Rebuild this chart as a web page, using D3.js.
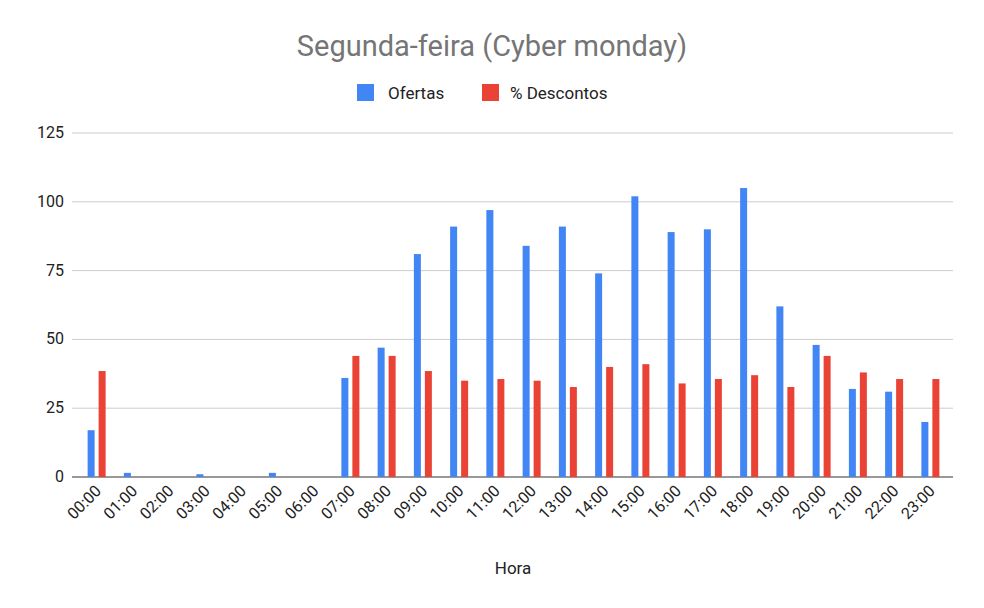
<!DOCTYPE html><html><head><meta charset="utf-8">
<script src="https://cdn.jsdelivr.net/npm/d3@7"></script>
<style>body{margin:0;background:#fff}text{font-family:Roboto,Arial,sans-serif}</style></head><body>
<svg id="c" width="984" height="608"></svg>
<script>
const hours=["00:00","01:00","02:00","03:00","04:00","05:00","06:00","07:00","08:00","09:00","10:00","11:00","12:00","13:00","14:00","15:00","16:00","17:00","18:00","19:00","20:00","21:00","22:00","23:00"];
const ofertas=[17,1.5,0,1,0,1.5,0,36,47,81,91,97,84,91,74,102,89,90,105,62,48,32,31,20];
const descontos=[38.5,0,0,0,0,0,0,44,44,38.5,35,35.6,35,32.7,40,41,34,35.6,37,32.7,44,38,35.6,35.6];
const yTicks=[0,25,50,75,100,125];
const svg=d3.select("#c");
const x=d3.scaleBand().domain(hours).range([78,948]);
const y=d3.scaleLinear().domain([0,125]).range([477,133]);
svg.append("g").selectAll("line").data(yTicks).join("line")
 .attr("x1",72).attr("x2",953).attr("y1",d=>y(d)).attr("y2",d=>y(d))
 .attr("stroke",d=>d===0?"#333":"#ccc").attr("stroke-width",1);
svg.append("g").selectAll("text").data(yTicks).join("text")
 .attr("x",64).attr("y",d=>y(d)+5).attr("text-anchor","end").attr("font-size",16).attr("fill","#222").text(d=>d);
const bw=7;
svg.append("g").selectAll("rect").data(ofertas).join("rect")
 .attr("x",(d,i)=>x(hours[i])+x.bandwidth()/2-bw-1.5).attr("width",bw)
 .attr("y",d=>y(d)).attr("height",d=>y(0)-y(d)).attr("fill","#4285f4");
svg.append("g").selectAll("rect").data(descontos).join("rect")
 .attr("x",(d,i)=>x(hours[i])+x.bandwidth()/2+1.5+1).attr("width",bw)
 .attr("y",d=>y(d)).attr("height",d=>y(0)-y(d)).attr("fill","#ea4335");
svg.append("g").selectAll("text").data(hours).join("text")
 .attr("transform",d=>`translate(${x(d)+x.bandwidth()/2+6},${492}) rotate(-45)`)
 .attr("text-anchor","end").attr("font-size",16).attr("fill","#222").text(d=>d);
svg.append("text").attr("x",492).attr("y",56).attr("text-anchor","middle").attr("font-size",29).attr("fill","#757575").text("Segunda-feira (Cyber monday)");
svg.append("rect").attr("x",357).attr("y",84).attr("width",17).attr("height",17).attr("fill","#4285f4");
svg.append("text").attr("x",388).attr("y",99).attr("font-size",17).attr("fill","#222").text("Ofertas");
svg.append("rect").attr("x",482).attr("y",84).attr("width",17).attr("height",17).attr("fill","#ea4335");
svg.append("text").attr("x",510).attr("y",99).attr("font-size",17).attr("fill","#222").text("% Descontos");
svg.append("text").attr("x",513).attr("y",574).attr("text-anchor","middle").attr("font-size",17).attr("fill","#222").text("Hora");
</script></body></html>
